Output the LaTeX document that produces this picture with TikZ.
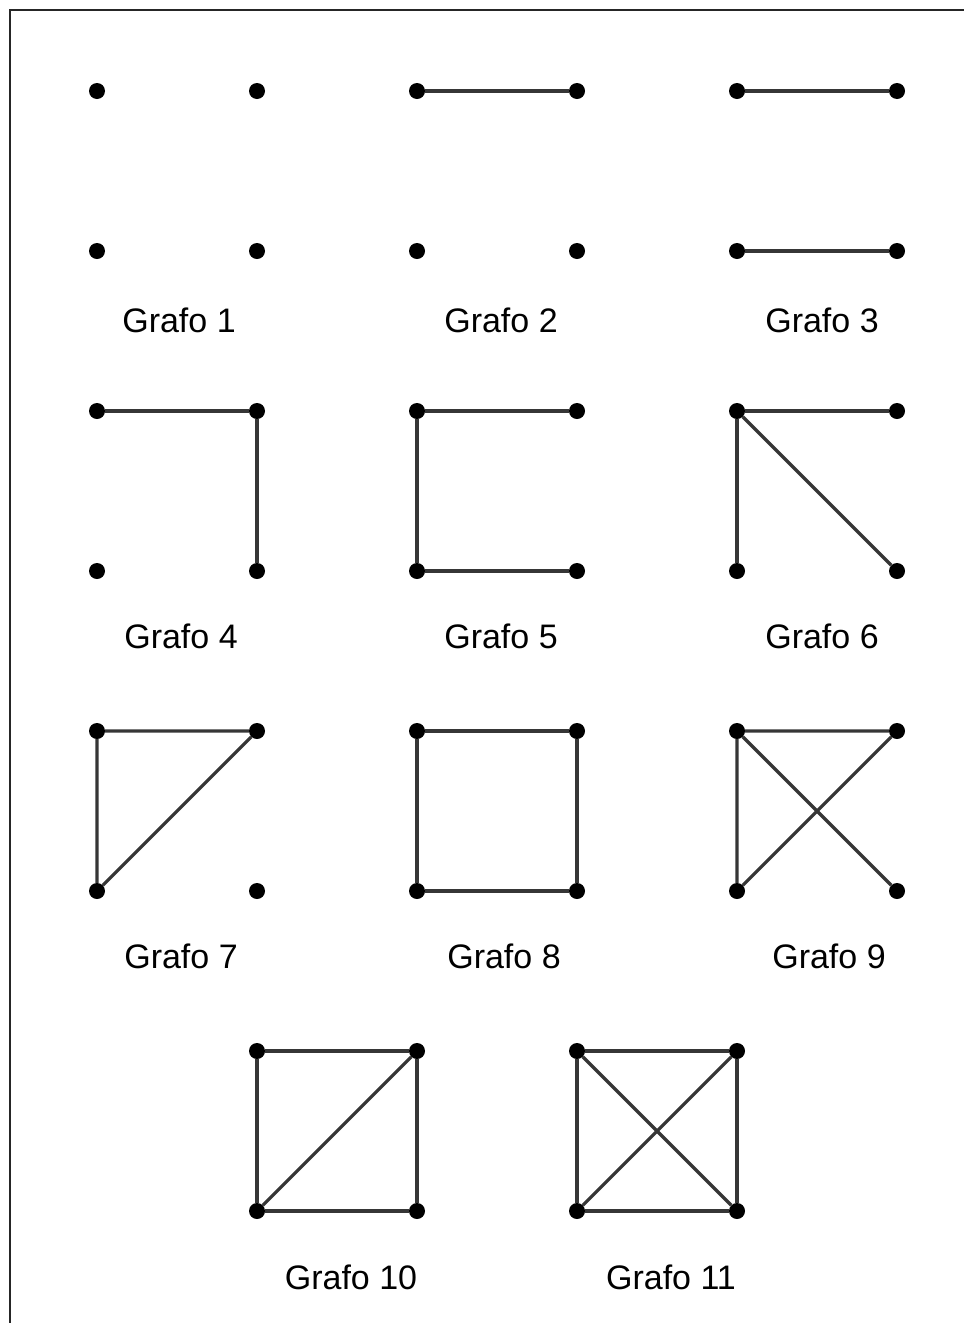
\documentclass[tikz,border=0pt]{standalone}
\usepackage{fontspec}
\setmainfont{Liberation Sans}
\usetikzlibrary{positioning}
\definecolor{GrafoEdge}{HTML}{363636}
\tikzset{
  vert/.style={circle,fill=black,inner sep=0pt,minimum size=16pt},
  arista/.style={draw=GrafoEdge,line width=3.2pt,line join=round},
  etiq/.style={anchor=base,inner sep=0pt,font=\fontsize{34}{40}\selectfont},
}
% four vertices of one graph: a b on top, c d below
\newcommand{\GrafoVerts}[3]{%
  \node[vert] (#1a) at (#2,#3) {};
  \node[vert] (#1b) at (#2+160,#3) {};
  \node[vert] (#1c) at (#2,#3+160) {};
  \node[vert] (#1d) at (#2+160,#3+160) {};}

\begin{document}
\begin{tikzpicture}[x=1pt,y=-1pt]
  \useasboundingbox (0,0) rectangle (964,1323);
  % frame, top and left only
  \coordinate (fa) at (10,10);
  \coordinate (fb) at (964,10);
  \coordinate (fc) at (10,1323);
  \draw[line width=1.4pt,black!85] (fb) -- (fa) -- (fc);

  \GrafoVerts{g1}{97}{91}
  \GrafoVerts{g2}{417}{91}
  \GrafoVerts{g3}{737}{91}
  \GrafoVerts{g4}{97}{411}
  \GrafoVerts{g5}{417}{411}
  \GrafoVerts{g6}{737}{411}
  \GrafoVerts{g7}{97}{731}
  \GrafoVerts{g8}{417}{731}
  \GrafoVerts{g9}{737}{731}
  \GrafoVerts{g10}{257}{1051}
  \GrafoVerts{g11}{577}{1051}

  % edges
  \draw[arista] (g2a) -- (g2b);
  \draw[arista] (g3a) -- (g3b);
  \draw[arista] (g3c) -- (g3d);
  \draw[arista] (g4a) -- (g4b) -- (g4d);
  \draw[arista] (g5b) -- (g5a) -- (g5c) -- (g5d);
  \draw[arista] (g6b) -- (g6a) -- (g6c);
  \draw[arista] (g6a) -- (g6d);
  \draw[arista] (g7b) -- (g7a) -- (g7c) -- (g7b);
  \draw[arista] (g8a) -- (g8b) -- (g8d) -- (g8c) -- (g8a);
  \draw[arista] (g9b) -- (g9a) -- (g9c) -- (g9b);
  \draw[arista] (g9a) -- (g9d);
  \draw[arista] (g10a) -- (g10b) -- (g10d) -- (g10c) -- (g10a);
  \draw[arista] (g10b) -- (g10c);
  \draw[arista] (g11a) -- (g11b) -- (g11d) -- (g11c) -- (g11a);
  \draw[arista] (g11a) -- (g11d);
  \draw[arista] (g11b) -- (g11c);

  % labels
  \node[etiq] (l1) at (179,332) {Grafo 1};
  \node[etiq] (l2) at (501,332) {Grafo 2};
  \node[etiq] (l3) at (822,332) {Grafo 3};
  \node[etiq] (l4) at (181,648) {Grafo 4};
  \node[etiq] (l5) at (501,648) {Grafo 5};
  \node[etiq] (l6) at (822,648) {Grafo 6};
  \node[etiq] (l7) at (181,968) {Grafo 7};
  \node[etiq] (l8) at (504,968) {Grafo 8};
  \node[etiq] (l9) at (829,968) {Grafo 9};
  \node[etiq] (l10) at (351,1289) {Grafo 10};
  \node[etiq] (l11) at (671,1289) {Grafo 11};
\end{tikzpicture}
\end{document}
